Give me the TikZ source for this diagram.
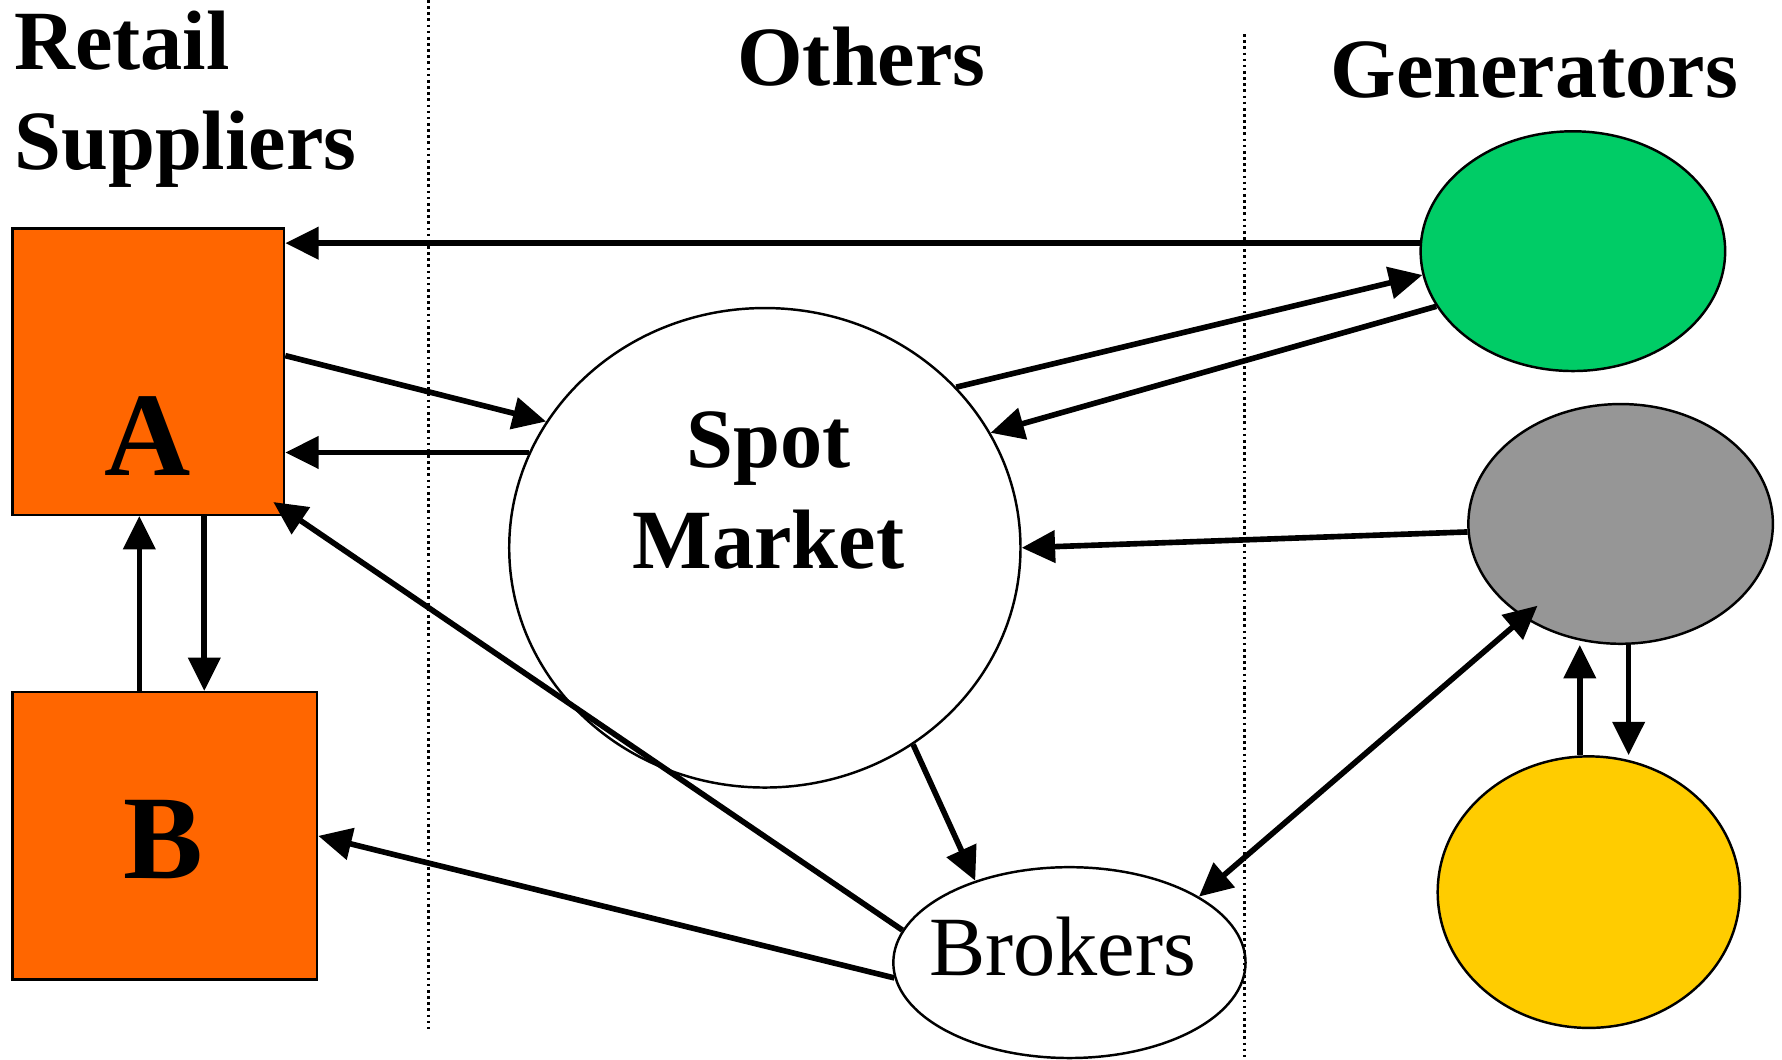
\documentclass[tikz,border=0pt]{standalone}
\usepackage{fontspec}
\setmainfont{Liberation Serif}
\usepackage{tikz}
\usepackage{xcolor}
\usetikzlibrary{shapes}
\usetikzlibrary{calc}
\usetikzlibrary{positioning, arrows.meta}
\definecolor{Supplier}{HTML}{FF6600}
\definecolor{GenGreen}{HTML}{00CC66}
\definecolor{GenGray}{HTML}{969696}
\definecolor{GenYellow}{HTML}{FFCC00}

\begin{document}
\begin{tikzpicture}[x=0.011365cm, y=-0.011365cm]
    % Define the styles for the boxes, ovals and arrows
    \tikzstyle{supplier}=[draw, fill=Supplier, line width=0.7pt, inner sep=0pt];
    \tikzstyle{oval}=[draw, ellipse, line width=0.7pt, inner sep=0pt];
    \tikzstyle{flow}=[line width=1.6pt, -{Triangle[length=9.5pt, width=9pt]}];
    \tikzstyle{twoway}=[line width=1.6pt, {Triangle[length=9.5pt, width=9pt]}-{Triangle[length=9.5pt, width=9pt]}];
    \tikzstyle{heading}=[font=\fontsize{24}{28.5}\selectfont\bfseries, inner sep=0pt];
    \tikzstyle{letter}=[font=\fontsize{34}{40}\selectfont\bfseries, inner sep=0pt];
    \tikzstyle{divider}=[densely dotted, line width=0.75pt];

    \useasboundingbox (0,0) rectangle (1568,932);

    % Dotted lines between the columns
    \draw[divider] (377,0) -- (377,905);
    \draw[divider] (1095,30) -- (1095,932);

    % Column headings
    \node[heading, anchor=north west, align=left] (retail) at (12,9) {Retail\\Suppliers};
    \node[heading, anchor=base] (others) at (758,75) {Others};
    \node[heading, anchor=base] (generators) at (1350,86) {Generators};

    % Retail suppliers A and B
    \node[supplier, minimum width=2.716cm, minimum height=2.864cm] (A) at (130.5,327) {};
    \node[supplier, minimum width=3.046cm, minimum height=2.875cm] (B) at (145,735.5) {};
    \node[letter, anchor=base] (labelA) at (130,418) {A};
    \node[letter, anchor=base] (labelB) at (144,773) {B};

    % Spot market and brokers
    \node[oval, minimum width=5.114cm, minimum height=4.796cm] (spot) at (673,482) {};
    \node[heading, align=center, anchor=north] (spottext) at (676,362) {Spot\\Market};
    \node[oval, minimum width=3.523cm, minimum height=1.909cm] (brokers) at (941,847) {};
    \node[font=\fontsize{24}{28}\selectfont, inner sep=0pt, anchor=base] (brokertext) at (935,858) {Brokers};

    % Generators
    \node[oval, fill=GenGreen, minimum width=3.046cm, minimum height=2.398cm] (green) at (1384,221) {};
    \node[oval, fill=GenGray, minimum width=3.046cm, minimum height=2.398cm] (gray) at (1426,461) {};
    \node[oval, fill=GenYellow, minimum width=3.023cm, minimum height=2.716cm] (yellow) at (1398,785) {};

    % Points for the vertical arrows
    \coordinate (AdownB) at ([xshift=0.56cm]A.south);
    \coordinate (BupA) at ([xshift=-0.09cm]A.south);
    \coordinate (grayDown) at ([xshift=0.08cm]gray.south);
    \coordinate (yellowUp) at ([xshift=-0.09cm]yellow.north);

    % Flows
    \draw[flow] (green.177) -- (green.177 -| A.east);
    \draw[flow] ([yshift=0.16cm]A.east) -- (spot.150);
    \draw[flow] (spot.158) -- (spot.158 -| A.east);
    \draw[flow] (brokers.169) -- ([xshift=-0.12cm, yshift=0.14cm]A.south east);
    \draw[flow] (AdownB) -- (AdownB |- B.north);
    \draw[flow] (BupA |- B.north) -- (BupA);
    \draw[flow] (brokers.185) -- (B.east);
    \draw[flow] (spot.40) -- (green.189);
    \draw[flow] (green.202) -- (spot.27);
    \draw[flow] (gray.183) -- (spot.east);
    \draw[flow] (spot.307) -- (brokers.139);
    \draw[twoway] ([shift={(0.14cm,0.12cm)}]gray.224) -- (brokers.27);
    \draw[flow] (yellowUp) -- (yellowUp |- gray.south);
    \draw[flow] (grayDown) -- (grayDown |- yellow.north);
\end{tikzpicture}
\end{document}
